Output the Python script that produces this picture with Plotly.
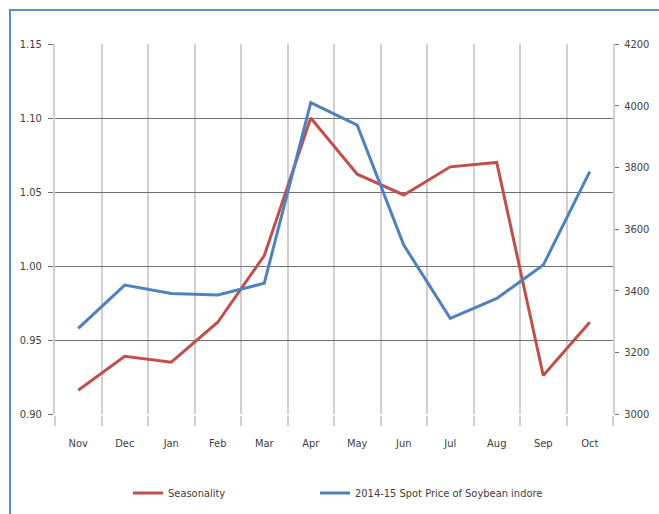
import plotly.graph_objects as go

months = ["Nov", "Dec", "Jan", "Feb", "Mar", "Apr", "May", "Jun", "Jul", "Aug", "Sep", "Oct"]
seasonality = [0.916, 0.939, 0.935, 0.962, 1.007, 1.100, 1.062, 1.048, 1.067, 1.070, 0.926, 0.962]
spot_price = [3278, 3418, 3391, 3386, 3424, 4010, 3937, 3548, 3310, 3375, 3483, 3786]

left_ticks = [0.90, 0.95, 1.00, 1.05, 1.10, 1.15]
right_ticks = [3000, 3200, 3400, 3600, 3800, 4000, 4200]

W, H = 659, 514
L, R, T, B = 55, 46, 44, 100
pw, ph = W - L - R, H - T - B

font = dict(family="Liberation Sans Narrow, DejaVu Sans Condensed, Liberation Sans", size=11, color="#404040")

fig = go.Figure()
fig.add_trace(go.Scatter(x=months, y=seasonality, mode="lines", name="Seasonality",
                         line=dict(color="#c0504d", width=3), yaxis="y", legend="legend"))
fig.add_trace(go.Scatter(x=months, y=spot_price, mode="lines",
                         name="2014-15 Spot Price of Soybean indore",
                         line=dict(color="#4f81bd", width=3), yaxis="y2", legend="legend2"))

leg_y = -(493 - (T + ph)) / ph
fig.update_layout(
    width=W, height=H,
    margin=dict(l=L, r=R, t=T, b=B, autoexpand=False),
    paper_bgcolor="white", plot_bgcolor="white",
    font=font,
    showlegend=True,
    legend=dict(orientation="h", x=(128 - L) / pw, xanchor="left",
                y=leg_y, yanchor="middle",
                font=dict(size=11, color="#404040"), bgcolor="rgba(0,0,0,0)"),
    legend2=dict(orientation="h", x=(315 - L) / pw, xanchor="left",
                 y=leg_y, yanchor="middle",
                 font=dict(size=11, color="#404040"), bgcolor="rgba(0,0,0,0)"),
    xaxis=dict(type="category", tickson="boundaries", showgrid=True,
               gridcolor="#d0d0d0", gridwidth=2, ticks="outside", ticklen=10,
               tickcolor="#d0d0d0", tickwidth=2,
               showline=True, linecolor="white", linewidth=2,
               ticklabelstandoff=18,
               range=[-0.5, 11.5], zeroline=False, fixedrange=True),
    yaxis=dict(range=[0.90, 1.15], tickvals=left_ticks, tickformat=".2f",
               showgrid=True, gridcolor="#707070", gridwidth=1,
               ticks="outside", ticklen=5, tickcolor="#707070",
               showline=True, linecolor="#d0d0d0", linewidth=2,
               zeroline=False, ticklabelstandoff=4),
    yaxis2=dict(range=[3000, 4200], tickvals=right_ticks, overlaying="y", side="right",
                showgrid=False, ticks="outside", ticklen=4, tickcolor="#707070",
                showline=True, linecolor="#d0d0d0", linewidth=2,
                zeroline=False, ticklabelstandoff=3),
)

# outer blue frame (partially outside the image, as in the reference)
fig.add_shape(type="rect", xref="paper", yref="paper",
              x0=(10 - L) / pw, x1=1.3, y0=-0.5, y1=1 + (T - 10) / ph,
              line=dict(color="#5b8bd0", width=2), layer="below")

fig.write_html("out.html")
